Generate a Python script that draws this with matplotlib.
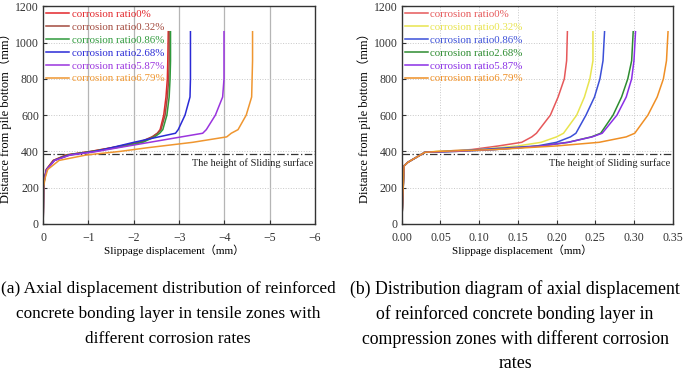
import matplotlib
matplotlib.use("Agg")
import matplotlib.pyplot as plt
import numpy as np

plt.rcParams['font.family'] = ['Liberation Serif', 'Noto Sans CJK SC']
plt.rcParams['axes.unicode_minus'] = True

labels = ["corrosion ratio0%", "corrosion ratio0.32%", "corrosion ratio0.86%",
          "corrosion ratio2.68%", "corrosion ratio5.87%", "corrosion ratio6.79%"]

# Left plot (tensile zones): displacement (mm, negative) vs height (mm)
left_colors = ["#e3262b", "#a34a3e", "#2f9a3c", "#2a2ad6", "#9a34de", "#ef9630"]
left_y = [0, 200, 250, 300, 350, 380, 400, 420, 450, 480, 500, 520, 600, 700, 800, 900, 1060]
left_x = [
    [0, -0.01, -0.03, -0.07, -0.22, -0.5, -1.05, -1.5, -2.15, -2.42, -2.52, -2.58, -2.66, -2.71, -2.74, -2.75, -2.76],
    [0, -0.01, -0.03, -0.07, -0.23, -0.52, -1.07, -1.52, -2.12, -2.4, -2.52, -2.6, -2.69, -2.74, -2.77, -2.78, -2.78],
    [0, -0.01, -0.03, -0.08, -0.24, -0.55, -1.1, -1.6, -2.2, -2.46, -2.57, -2.64, -2.73, -2.78, -2.8, -2.81, -2.81],
    [0, -0.01, -0.03, -0.08, -0.25, -0.58, -1.15, -1.5, -2.0, -2.55, -2.92, -2.98, -3.13, -3.24, -3.25, -3.25, -3.25],
    [0, -0.01, -0.03, -0.08, -0.25, -0.6, -1.2, -1.65, -2.35, -3.05, -3.52, -3.6, -3.8, -3.96, -3.99, -3.99, -3.99],
    [0, -0.01, -0.04, -0.1, -0.35, -0.95, -1.7, -2.3, -3.3, -4.05, -4.15, -4.3, -4.48, -4.6, -4.61, -4.62, -4.62],
]

# Right plot (compression zones)
right_colors = ["#e6585a", "#e8e44e", "#3b4fd8", "#2d8c30", "#8a2fe6", "#ef8f25"]
right_y = [0, 320, 340, 370, 395, 400, 410, 430, 450, 480, 500, 600, 700, 800, 900, 1060]
right_x = [
    [0, 0.003, 0.008, 0.02, 0.03, 0.05, 0.09, 0.125, 0.155, 0.168, 0.174, 0.192, 0.202, 0.21, 0.213, 0.214],
    [0, 0.003, 0.008, 0.02, 0.03, 0.045, 0.1, 0.15, 0.18, 0.2, 0.209, 0.226, 0.236, 0.243, 0.247, 0.247],
    [0, 0.003, 0.008, 0.02, 0.03, 0.06, 0.1, 0.175, 0.2, 0.218, 0.225, 0.238, 0.249, 0.256, 0.26, 0.262],
    [0, 0.003, 0.008, 0.02, 0.03, 0.07, 0.12, 0.18, 0.215, 0.245, 0.257, 0.273, 0.284, 0.292, 0.297, 0.299],
    [0, 0.003, 0.008, 0.02, 0.03, 0.07, 0.12, 0.18, 0.215, 0.246, 0.259, 0.278, 0.29, 0.297, 0.3, 0.302],
    [0, 0.003, 0.008, 0.02, 0.03, 0.05, 0.12, 0.2, 0.255, 0.29, 0.301, 0.318, 0.33, 0.338, 0.342, 0.344],
]

slide_h = 385

fig = plt.figure(figsize=(6.85, 3.75), dpi=100)
axL = fig.add_axes([0.063, 0.403, 0.397, 0.580])
axR = fig.add_axes([0.5865, 0.403, 0.3955, 0.580])

for ax in (axL, axR):
    ax.set_ylim(0, 1200)
    ax.set_yticks(range(0, 1201, 200))
    ax.tick_params(direction='in', labelsize=8.5, length=3, width=0.8, colors='#333333', pad=3)
    ax.tick_params(axis='x', pad=5.5)
    for s in ax.spines.values():
        s.set_color('#333333')
        s.set_linewidth(1.0)
    ax.set_ylabel("Distance from pile bottom（mm）", fontsize=9, labelpad=2)
    ax.set_xlabel("Slippage displacement（mm）", fontsize=8)
    ax.axhline(slide_h, color='#333333', lw=0.9, ls=(0, (6, 2, 1, 2)), zorder=1)

axL.xaxis.set_label_coords(0.48, -0.095)
axR.xaxis.set_label_coords(0.445, -0.095)

leg_kw = dict(loc='upper left', fontsize=7.8, frameon=False, handlelength=2.1,
              labelspacing=0.3, borderaxespad=0.1, handletextpad=0.25, borderpad=0.2)

# left
axL.set_xlim(0, -6)
axL.set_xticks(np.arange(0, -6.5, -1))
axL.set_xticklabels(["0"] + ["\u2212%d" % i for i in range(1, 7)])
for xv in range(-1, -6, -1):
    axL.axvline(xv, color='#b5b5b5', lw=0.9, zorder=0)
for yv in range(200, 1001, 200):
    axL.axhline(yv, color='#c8c8c8', lw=0.7, ls=':', zorder=0)
for xs, c, lab in zip(left_x, left_colors, labels):
    axL.plot(xs, left_y, color=c, lw=1.1, label=lab)
axL.text(-5.95, 333, "The height of Sliding surface", ha='right', va='center', fontsize=7.5, color='#222222')
legL = axL.legend(**leg_kw)
for t, c in zip(legL.get_texts(), left_colors):
    t.set_color(c)

# right
axR.set_xlim(0, 0.35)
axR.set_xticks(np.arange(0, 0.351, 0.05))
axR.set_xticklabels(["%.2f" % v for v in np.arange(0, 0.351, 0.05)])
for xv in np.arange(0.05, 0.31, 0.05):
    axR.axvline(xv, color='#c8c8c8', lw=0.7, ls=':', zorder=0)
for yv in range(200, 1001, 200):
    axR.axhline(yv, color='#c8c8c8', lw=0.7, ls=':', zorder=0)
for xs, c, lab in zip(right_x, right_colors, labels):
    axR.plot(xs, right_y, color=c, lw=1.1, label=lab)
axR.text(0.347, 333, "The height of Sliding surface", ha='right', va='center', fontsize=7.5, color='#222222')
legR = axR.legend(**leg_kw)
for t, c in zip(legR.get_texts(), right_colors):
    t.set_color(c)

capA = ["(a) Axial displacement distribution of reinforced",
        "concrete bonding layer in tensile zones with",
        "different corrosion rates"]
capB = ["(b) Distribution diagram of axial displacement",
        "of reinforced concrete bonding layer in",
        "compression zones with different corrosion",
        "rates"]
ys = [289, 314, 339, 363]
for i, line in enumerate(capA):
    fig.text(168 / 685, 1 - ys[i] / 375, line, ha='center', va='center', fontsize=12.4)
for i, line in enumerate(capB):
    fig.text(515 / 685, 1 - ys[i] / 375, line, ha='center', va='center', fontsize=12.8)

fig.savefig("out.png", dpi=100)
